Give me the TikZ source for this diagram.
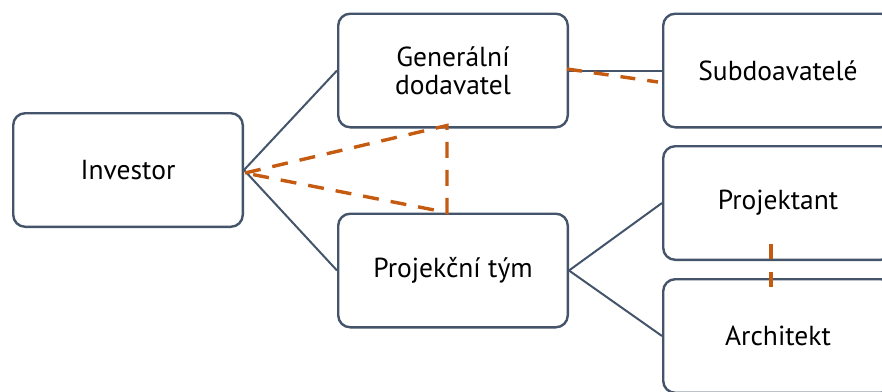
\documentclass[tikz,border=0pt]{standalone}
\usepackage{fontspec}
\setmainfont{PT Sans}
\definecolor{slate}{HTML}{44546A}
\definecolor{rust}{HTML}{C55A11}
\begin{document}
\begin{tikzpicture}[x=1pt,y=-1pt,
  box/.style={draw=slate, line width=2.4pt, fill=white, rounded corners=12pt,
    minimum width=229.6pt, minimum height=113.6pt, align=center,
    font=\fontsize{27.5}{28}\selectfont, inner sep=0pt},
  link/.style={draw=slate, line width=2pt},
  tie/.style={draw=rust, line width=3.4pt, dash pattern=on 16pt off 12pt}]
\useasboundingbox (0,0) rectangle (882,391);
\clip (0,0) rectangle (882,391);

% boxes
\node[box] (inv)  at (128,170)   {Investor};
\node[box] (gen)  at (453,70.5)  {Generální\\dodavatel};
\node[box] (sub)  at (778,70.5)  {Subdoavatelé};
\node[box] (ptym) at (453,270.5) {Projekční tým};
\node[box] (proj) at (778,203)   {Projektant};
\node[box] (arch) at (778,336)   {Architekt};

% hierarchy links
\draw[link] (inv.east) -- (gen.west);
\draw[link] (inv.east) -- (ptym.west);
\draw[link] (gen.east) -- (sub.west);
\draw[link] (ptym.east) -- (proj.west);
\draw[link] (ptym.east) -- (arch.west);

% cooperation ties
\coordinate (g1) at ([xshift=-6pt,yshift=3pt]gen.south);
\coordinate (p1) at ([xshift=-6pt]ptym.north);
\coordinate (i1) at ([xshift=1pt,yshift=-3pt]inv.east);
\draw[tie] (i1) -- (g1) -- (p1) -- (i1);
\draw[tie, dash pattern=on 15pt off 12pt] ([xshift=-2pt,yshift=1.5pt]gen.east) -- ([xshift=-4pt,yshift=-11.5pt]sub.west);
\draw[tie, dash pattern=on 15pt off 13pt] ([xshift=-7pt,yshift=17pt]proj.south) -- ([xshift=-7pt,yshift=-9pt]arch.north);
\end{tikzpicture}
\end{document}
